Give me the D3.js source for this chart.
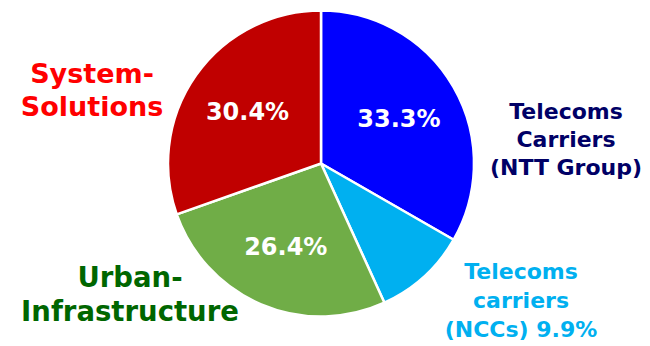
<!DOCTYPE html>
<html>
<head>
<meta charset="utf-8">
<script src="https://cdn.jsdelivr.net/npm/d3@7"></script>
<style>
  html, body { margin: 0; padding: 0; background: #fff; }
  svg { display: block; font-family: "DejaVu Sans", Verdana, sans-serif; font-weight: bold; }
</style>
</head>
<body>
<svg width="650" height="346"></svg>
<script>
// доли сегментов, по часовой стрелке от 12 часов
const segments = ["NTT", "NCCs", "Urban", "System"];
const shares = [33.3, 9.9, 26.4, 30.4];
const fills = ["#0000FF", "#00B0F0", "#70AD47", "#C00000"];
const showPct = [true, false, true, true];

// подписи вокруг круга
const labelLines = [
    ["Telecoms", "Carriers", "(NTT Group)"],
    ["Telecoms", "carriers", "(NCCs) 9.9%"],
    ["Urban-", "Infrastructure"],
    ["System-", "Solutions"]
];
const labelColors = ["#000066", "#00B0F0", "#006600", "#FF0000"];

let svg = d3.select("svg");
const cx = 321, cy = 163.5, radius = 153;

let pie = d3.pie().sort(null).value(d => d.value);
let arcs = pie(segments.map((s, i) => ({ key: s, value: shares[i], i: i })));

let arc = d3.arc().innerRadius(0).outerRadius(radius);
let labelArc = d3.arc().innerRadius(90).outerRadius(90);

let g = svg.append("g").attr("transform", `translate(${cx}, ${cy})`);

// сектора
g.selectAll("path")
    .data(arcs)
    .enter()
    .append("path")
    .attr("d", arc)
    .style("fill", d => fills[d.data.i])
    .style("stroke", "#fff")
    .style("stroke-width", 2.5)
    .style("stroke-linejoin", "round");

// проценты внутри
g.selectAll(".pct")
    .data(arcs.filter(d => showPct[d.data.i]))
    .enter()
    .append("text")
    .attr("class", "pct")
    .attr("transform", d => `translate(${labelArc.centroid(d)})`)
    .attr("text-anchor", "middle")
    .attr("dy", "0.37em")
    .style("fill", "#fff")
    .style("font-size", "24px")
    .text(d => d.data.value.toFixed(1) + "%");

// внешние подписи
const labelPos = [
    { x: 566, y: 119, size: 22, step: 28 },
    { x: 521, y: 279, size: 22, step: 29 },
    { x: 130, y: 287, size: 27.5, step: 34 },
    { x: 92, y: 83, size: 27, step: 33 }
];

labelLines.forEach((lines, i) => {
    let t = svg.append("text")
        .attr("text-anchor", "middle")
        .style("fill", labelColors[i])
        .style("font-size", labelPos[i].size + "px");
    lines.forEach((line, j) => {
        t.append("tspan")
            .attr("x", labelPos[i].x)
            .attr("y", labelPos[i].y + j * labelPos[i].step)
            .text(line);
    });
});
</script>
</body>
</html>
